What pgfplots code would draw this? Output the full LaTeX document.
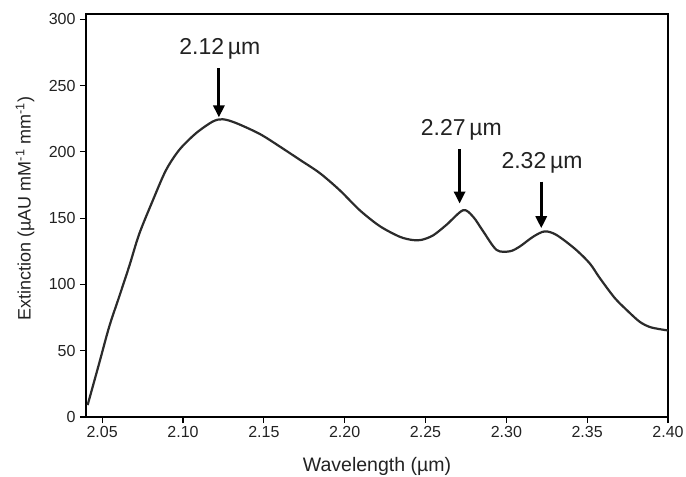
\documentclass[border=0pt]{standalone}
\usepackage{fontspec}
\setmainfont{Liberation Sans}
\usepackage{pgfplots}
\pgfplotsset{compat=1.18}
\usetikzlibrary{arrows.meta}
\definecolor{curve}{HTML}{2B2B2B}
\definecolor{txt}{HTML}{222222}

\pgfplotstableread{
x y
2.041 9
2.0482 40.7
2.0544 68.3
2.0606 91
2.0668 114
2.0729 138
2.0812 163
2.0894 186
2.0977 201.5
2.108 214
2.1183 222.8
2.1245 224.6
2.1327 221.8
2.1475 213.5
2.1599 204
2.1723 194
2.1846 184
2.197 171
2.2093 156
2.2217 144
2.234 136
2.242 133.5
2.2475 133.6
2.2547 137
2.263 145
2.2733 156
2.2795 151
2.2857 140
2.294 126
2.3022 125
2.3083 128.6
2.3166 136
2.3237 140
2.3309 137.4
2.3423 127
2.3515 116
2.3577 105
2.3669 90
2.3742 81
2.3823 72
2.3885 68
2.3947 66.3
2.40 65.3
}\extinction

\begin{document}
\begin{tikzpicture}
\path[use as bounding box] (-86bp,-60bp) rectangle (600bp,417bp);
\begin{axis}[
    at={(0,0)}, anchor=south west,
    scale only axis,
    width=582bp, height=403bp,
    xmin=2.04, xmax=2.40,
    ymin=0, ymax=304,
    xtick={2.05,2.10,2.15,2.20,2.25,2.30,2.35,2.40},
    ytick={0,50,100,150,200,250,300},
    tick pos=left,
    tick align=outside,
    major tick length=6bp,
    axis line style={line width=1.2bp, black},
    every tick/.style={line width=1.2bp, black},
    /pgf/number format/assume math mode=true,
    xticklabel style={/pgf/number format/.cd, fixed, fixed zerofill, precision=2},
    tick label style={font=\fontsize{16bp}{19bp}\selectfont, text=txt},
    yticklabel style={xshift=-1bp},
    xlabel={Wavelength (µm)},
    ylabel={Extinction (µAU mM\textsuperscript{-1} mm\textsuperscript{-1})},
    xlabel style={font=\fontsize{19.5bp}{23bp}\selectfont, text=txt,
        at={(rel axis cs:0.5,0)}, anchor=center, yshift=-49bp},
    ylabel style={font=\fontsize{18bp}{21bp}\selectfont, text=txt,
        at={(rel axis cs:0,0.517)}, anchor=center, yshift=61bp},
    clip=false,
]
\addplot[smooth, color=curve, line width=2.2bp] table[x=x, y=y] {\extinction};

\node[font=\fontsize{23bp}{27bp}\selectfont, text=txt] at (axis cs:2.1228,278) {2.12\,µm};
\draw[line width=3bp, -{Triangle[length=12bp,width=11bp]}] (axis cs:2.1222,263) -- (axis cs:2.1222,226);
\node[font=\fontsize{23bp}{27bp}\selectfont, text=txt] at (axis cs:2.2722,216.5) {2.27\,µm};
\draw[line width=3bp, -{Triangle[length=12bp,width=11bp]}] (axis cs:2.2711,202) -- (axis cs:2.2711,161);
\node[font=\fontsize{23bp}{27bp}\selectfont, text=txt] at (axis cs:2.3221,191.6) {2.32\,µm};
\draw[line width=3bp, -{Triangle[length=12bp,width=11bp]}] (axis cs:2.3216,177.5) -- (axis cs:2.3216,142.4);
\end{axis}
\end{tikzpicture}
\end{document}
